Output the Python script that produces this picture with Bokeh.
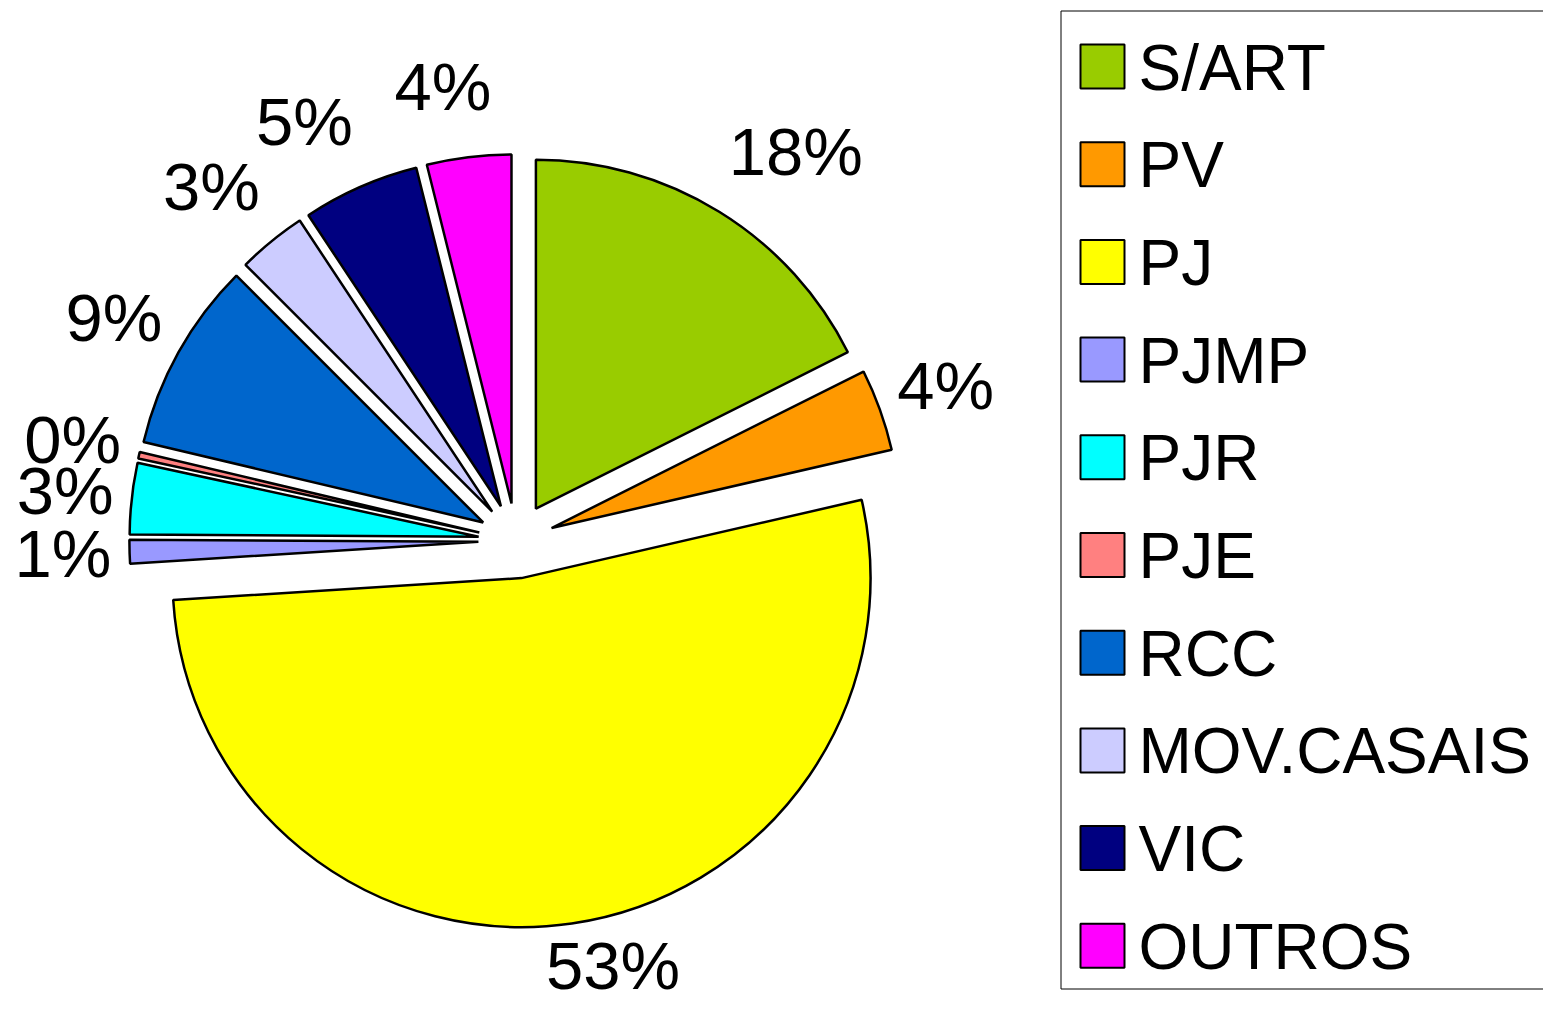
import math
from bokeh.plotting import figure
from bokeh.models import Range1d, ColumnDataSource
from bokeh.embed import file_html
from bokeh.resources import INLINE
from bokeh.core.properties import value

# ---- data ----
categories = ["S/ART", "PV", "PJ", "PJMP", "PJR", "PJE", "RCC", "MOV.CASAIS", "VIC", "OUTROS"]
values = [17.6, 3.8, 52.6, 1.1, 3.3, 0.3, 8.8, 3.2, 5.4, 3.9]
colors = ["#99CC00", "#FF9900", "#FFFF00", "#9999FF", "#00FFFF",
          "#FF8080", "#0066CC", "#CCCCFF", "#000080", "#FF00FF"]

# ---- layout (pixels, canvas coordinates with y up) ----
W, H = 1543, 1005
CX, CY = 515.6, 464.7      # pie centre
R = 349                     # pie radius
EXPLODE = 37.7              # slice offset
LABEL_R = 405               # label anchor radius
LABEL_DY = 53               # vertical push of labels outward
LABEL_MIN_Y = 40            # keep labels inside the canvas
FONT = value("Liberation Sans")
LABEL_PX = 67
LEGEND_PX = 64

def text_width(t, px):
    em = {"%": 0.889}
    return sum(em.get(ch, 0.556) for ch in t) * px

total = sum(values)
xs, ys, starts, ends, lx, ly, pcts = [], [], [], [], [], [], []
cum = 0.0
for v in values:
    t0 = cum / total * 2 * math.pi
    cum += v
    t1 = cum / total * 2 * math.pi
    mid = (t0 + t1) / 2
    s, c = math.sin(mid), math.cos(mid)
    xs.append(CX + EXPLODE * s)
    ys.append(CY + EXPLODE * c)
    starts.append(math.pi / 2 - t1)
    ends.append(math.pi / 2 - t0)
    label = f"{round(v / total * 100)}%"
    pcts.append(label)
    frac = min(1.0, max(0.0, 0.5 - 2.0 * s))   # 0 -> box right of anchor, 1 -> left of anchor
    w = text_width(label, LABEL_PX)
    lx.append(CX + LABEL_R * s + (0.5 - frac) * w)
    ly.append(max(LABEL_MIN_Y, CY + (LABEL_R + LABEL_DY) * c))

src = ColumnDataSource(dict(x=xs, y=ys, start=starts, end=ends, color=colors,
                            cat=categories, lx=lx, ly=ly, pct=pcts))

p = figure(width=W, height=H, x_range=Range1d(0, W), y_range=Range1d(0, H),
           output_backend="svg", toolbar_location=None,
           x_axis_location=None, y_axis_location=None,
           min_border=0, min_border_left=0, min_border_right=0,
           min_border_top=0, min_border_bottom=0)
p.grid.visible = False
p.outline_line_color = None
p.background_fill_color = "white"
p.border_fill_color = "white"

p.wedge(x="x", y="y", radius=R, start_angle="start", end_angle="end",
        fill_color="color", line_color="black", line_width=2.5, source=src)

p.text(x="lx", y="ly", text="pct", text_align="center", text_baseline="middle",
       text_font=FONT, text_font_size=f"{LABEL_PX}px", text_color="black", source=src)

# ---- legend (drawn with glyphs) ----
LEG_LEFT, LEG_TOP, LEG_BOTTOM, LEG_RIGHT = 1060.5, 994.5, 16.5, 1620
SQ_X, SQ = 1102, 44
ROW0, PITCH = 939, 97.7
TXT_X = 1138

p.quad(left=LEG_LEFT, right=LEG_RIGHT, top=LEG_TOP, bottom=LEG_BOTTOM,
       fill_color=None, line_color="black", line_width=1)

n = len(categories)
leg_y = [ROW0 - PITCH * i for i in range(n)]
leg_src = ColumnDataSource(dict(x=[SQ_X] * n, y=leg_y, tx=[TXT_X] * n,
                                ty=[yy - 1 for yy in leg_y],
                                color=colors, cat=categories))
p.rect(x="x", y="y", width=SQ, height=SQ, fill_color="color",
       line_color="black", line_width=2, source=leg_src)
p.text(x="tx", y="ty", text="cat", text_align="left", text_baseline="middle",
       text_font=FONT, text_font_size=f"{LEGEND_PX}px", text_color="black", source=leg_src)

open("out.html", "w").write(file_html(p, INLINE))
